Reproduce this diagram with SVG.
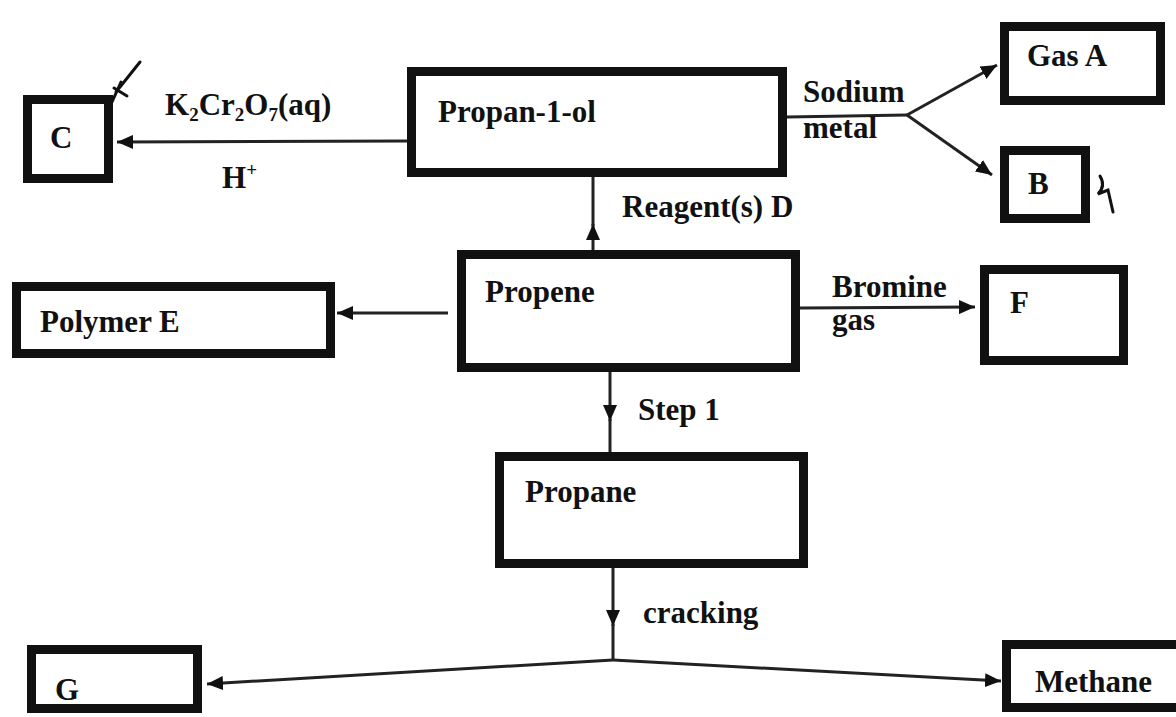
<svg xmlns="http://www.w3.org/2000/svg" width="1176" height="717" viewBox="0 0 1176 717">
<defs>
<marker id="ah" markerUnits="userSpaceOnUse" markerWidth="18" markerHeight="14" refX="16" refY="7" orient="auto">
<path d="M0,0 L16,7 L0,14 Z" fill="#111"/>
</marker>
<style>
.box{fill:#fff;stroke:#111;stroke-width:9}
.t{font-family:"Liberation Serif","Times New Roman",serif;font-weight:bold;font-size:31px;fill:#111}
.c{stroke:#222;stroke-width:3;fill:none}
.tick{stroke:#111;stroke-width:3;fill:none;stroke-linecap:round}
</style>
</defs>
<rect width="1176" height="717" fill="#fff"/>

<g id="connectors">
<line class="c" x1="407" y1="141" x2="117" y2="142" marker-end="url(#ah)"/>
<polyline class="c" points="787,117 907,115"/>
<line class="c" x1="907" y1="115" x2="997" y2="65" marker-end="url(#ah)"/>
<line class="c" x1="907" y1="115" x2="992" y2="175" marker-end="url(#ah)"/>
<line class="c" x1="593" y1="252" x2="593" y2="224" marker-end="url(#ah)"/>
<line class="c" x1="593" y1="226" x2="593" y2="177"/>
<line class="c" x1="448" y1="313" x2="337" y2="313" marker-end="url(#ah)"/>
<line class="c" x1="800" y1="308" x2="975" y2="307" marker-end="url(#ah)"/>
<line class="c" x1="610" y1="372" x2="610" y2="421" marker-end="url(#ah)"/>
<line class="c" x1="610" y1="419" x2="610" y2="452"/>
<line class="c" x1="613" y1="568" x2="613" y2="626" marker-end="url(#ah)"/>
<line class="c" x1="613" y1="624" x2="613" y2="660"/>
<line class="c" x1="613" y1="660" x2="207" y2="684" marker-end="url(#ah)"/>
<line class="c" x1="613" y1="660" x2="1001" y2="681" marker-end="url(#ah)"/>
</g>

<g id="labels">
<text class="t" x="165" y="115">K<tspan font-size="19" dy="6">2</tspan><tspan dy="-6">Cr</tspan><tspan font-size="19" dy="6">2</tspan><tspan dy="-6">O</tspan><tspan font-size="19" dy="6">7</tspan><tspan dy="-6">(aq)</tspan></text>
<text class="t" x="222" y="188">H<tspan font-size="19" dy="-12">+</tspan></text>
<text class="t" x="803" y="102">Sodium</text>
<text class="t" x="803" y="138">metal</text>
<text class="t" x="622" y="217">Reagent(s) D</text>
<text class="t" x="832" y="297">Bromine</text>
<text class="t" x="832" y="330">gas</text>
<text class="t" x="638" y="420">Step 1</text>
<text class="t" x="643" y="623">cracking</text>
</g>

<g id="node-propanol"><rect class="box" x="411.5" y="71.5" width="371" height="101"/><text class="t" x="438" y="122">Propan-1-ol</text></g>
<g id="node-c"><rect class="box" x="27.5" y="99.5" width="81" height="79"/><text class="t" x="50" y="148">C</text></g>
<g id="node-gasA"><rect class="box" x="1004.5" y="26.5" width="156" height="74"/><text class="t" x="1027" y="66">Gas A</text></g>
<g id="node-b"><rect class="box" x="1004.5" y="150.5" width="81" height="68"/><text class="t" x="1028" y="194">B</text></g>
<g id="node-propene"><rect class="box" x="461.5" y="254.5" width="334" height="113"/><text class="t" x="485" y="302">Propene</text></g>
<g id="node-polymerE"><rect class="box" x="16.5" y="286.5" width="314" height="67"/><text class="t" x="40" y="332">Polymer E</text></g>
<g id="node-f"><rect class="box" x="984.5" y="269.5" width="139" height="91"/><text class="t" x="1010" y="313">F</text></g>
<g id="node-propane"><rect class="box" x="499.5" y="456.5" width="304" height="107"/><text class="t" x="525" y="502">Propane</text></g>
<g id="node-g"><rect class="box" x="31.5" y="649.5" width="166" height="59"/><text class="t" x="55" y="700">G</text></g>
<g id="node-methane"><rect class="box" x="1006.5" y="644.5" width="175" height="63"/><text class="t" x="1035" y="692">Methane</text></g>

<g id="marks">
<path class="tick" d="M112,102 L121,82 M116,92 L140,62 M114,88 L127,96"/>
<path class="tick" d="M1100,176 Q1106,186 1098,194 L1108,190 L1113,212"/>
</g>
</svg>
